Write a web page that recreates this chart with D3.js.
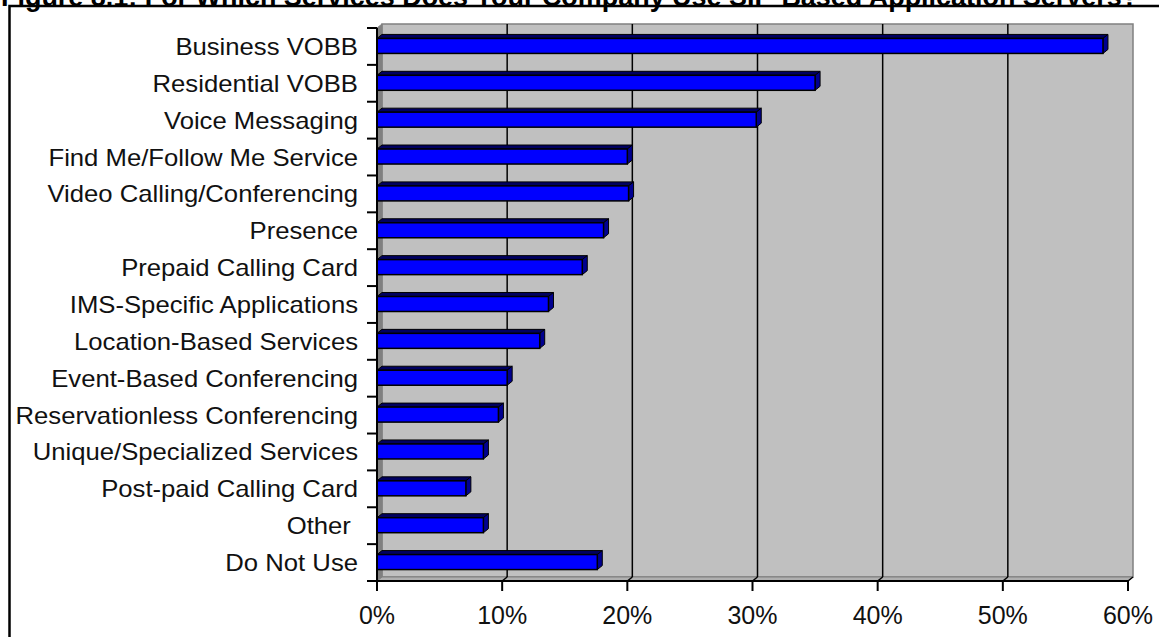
<!DOCTYPE html>
<html><head><meta charset="utf-8">
<script src="https://cdn.jsdelivr.net/npm/d3@7"></script>
<style>
html,body{margin:0;padding:0;background:#fff;overflow:hidden;}
svg{display:block;}
</style></head>
<body>
<svg id="chart" width="1159" height="637"></svg>
<script>
const title = "Figure 8.1: For Which Services Does Your Company Use SIP-Based Application Servers?";
const categories = ["Business VOBB","Residential VOBB","Voice Messaging","Find Me/Follow Me Service",
  "Video Calling/Conferencing","Presence","Prepaid Calling Card","IMS-Specific Applications",
  "Location-Based Services","Event-Based Conferencing","Reservationless Conferencing",
  "Unique/Specialized Services","Post-paid Calling Card","Other ","Do Not Use"];
const values = [58.0,35.0,30.3,20.0,20.1,18.1,16.4,13.7,13.0,10.4,9.7,8.5,7.1,8.5,17.6];
const xTicks = [0,10,20,30,40,50,60];
const xTickLabels = ["0%","10%","20%","30%","40%","50%","60%"];

(function () {
const svg = d3.select("#chart");
const pL = 377, pR = 1128, pT = 28, pB = 581;
const dx = 5, dy = -4;

// title (cut off at top, as in the reference)
const t = svg.append("text").attr("x", 1).attr("y", 6)
  .attr("font-family", "'Liberation Sans', Arial, sans-serif")
  .attr("font-weight", "bold").attr("font-size", 20).attr("fill", "#000").text(title);
const tw = t.node().getComputedTextLength();
t.attr("font-size", 20 * 1138 / tw);

// outer border
svg.append("rect").attr("x", 9.5).attr("y", 6).attr("width", 1300).attr("height", 800)
  .attr("fill", "none").attr("stroke", "#000").attr("stroke-width", 2.5);

const x = d3.scaleLinear().domain([0, 60]).range([pL, pR]);
const y = d3.scaleBand().domain(categories).range([pT, pB]).paddingInner(0.593).paddingOuter(0.2965);

// back wall
svg.append("rect").attr("x", pL + dx).attr("y", pT + dy)
  .attr("width", pR - pL).attr("height", pB - pT)
  .attr("fill", "#c0c0c0").attr("stroke", "#808080").attr("stroke-width", 1.5);
// left side wall
svg.append("polygon")
  .attr("points", [[pL, pT], [pL + dx, pT + dy], [pL + dx, pB + dy], [pL, pB]].join(" "))
  .attr("fill", "#808080").attr("stroke", "#808080");
// floor
svg.append("polygon")
  .attr("points", [[pL, pB], [pL + dx, pB + dy], [pR + dx, pB + dy], [pR, pB]].join(" "))
  .attr("fill", "#b0b0b0").attr("stroke", "#808080");

// gridlines
const gv = xTicks.filter(v => v > 0 && v < 60);
svg.selectAll("line.grid").data(gv).enter().append("line")
  .attr("x1", d => x(d) + dx).attr("x2", d => x(d) + dx)
  .attr("y1", pT + dy).attr("y2", pB + dy)
  .attr("stroke", "#000").attr("stroke-width", 1.5);
svg.selectAll("line.gridf").data(gv.concat([60])).enter().append("line")
  .attr("x1", d => x(d) + dx).attr("x2", d => x(d))
  .attr("y1", pB + dy).attr("y2", pB)
  .attr("stroke", "#000").attr("stroke-width", 1.5);

// bars
const g = svg.append("g");
categories.forEach((c, i) => {
  const y0 = y(c) - 0.5, y1 = y0 + y.bandwidth();
  const x0 = x(0), x1 = x(values[i]);
  g.append("polygon").attr("points", [[x0, y0], [x0 + dx, y0 + dy], [x1 + dx, y0 + dy], [x1, y0]].join(" "))
    .attr("fill", "#000060").attr("stroke", "#000").attr("stroke-width", 1);
  g.append("polygon").attr("points", [[x1, y0], [x1 + dx, y0 + dy], [x1 + dx, y1 + dy], [x1, y1]].join(" "))
    .attr("fill", "#000090").attr("stroke", "#000").attr("stroke-width", 1);
  g.append("rect").attr("x", x0).attr("y", y0).attr("width", x1 - x0).attr("height", y1 - y0)
    .attr("fill", "#0000ff").attr("stroke", "#000").attr("stroke-width", 1.5);
});

// y axis
svg.append("line").attr("x1", pL).attr("x2", pL).attr("y1", pT).attr("y2", pB)
  .attr("stroke", "#000").attr("stroke-width", 2);
const bounds = d3.range(categories.length + 1).map(i => pT + i * y.step());
svg.selectAll("line.yt").data(bounds).enter().append("line")
  .attr("x1", pL - 10).attr("x2", pL).attr("y1", d => d).attr("y2", d => d)
  .attr("stroke", "#000").attr("stroke-width", 2);

svg.selectAll("text.cat").data(categories).enter().append("text")
  .attr("transform", d => `translate(358,${y(d) + y.bandwidth() / 2 + 8.5}) scale(1.07,1)`)
  .attr("text-anchor", "end").style("white-space", "pre")
  .attr("font-family", "'Liberation Sans', Arial, sans-serif").attr("font-size", 24)
  .attr("fill", "#111").text(d => d);

// x axis
svg.append("line").attr("x1", pL).attr("x2", pR).attr("y1", pB).attr("y2", pB)
  .attr("stroke", "#000").attr("stroke-width", 2);
svg.selectAll("line.xt").data(xTicks).enter().append("line")
  .attr("x1", d => x(d)).attr("x2", d => x(d)).attr("y1", pB).attr("y2", pB + 10)
  .attr("stroke", "#000").attr("stroke-width", 2);
svg.selectAll("text.xl").data(xTicks).enter().append("text")
  .attr("x", d => x(d)).attr("y", 624).attr("text-anchor", "middle")
  .attr("font-family", "'Liberation Sans', Arial, sans-serif").attr("font-size", 25)
  .attr("fill", "#111").text((d, i) => xTickLabels[i]);
})();
</script>
</body></html>
